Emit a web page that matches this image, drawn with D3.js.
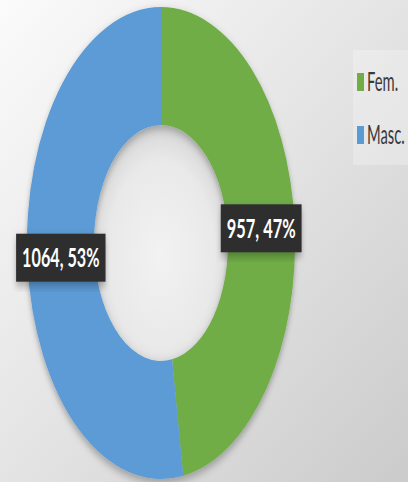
<!DOCTYPE html>
<html>
<head>
<meta charset="utf-8">
<script src="https://cdn.jsdelivr.net/npm/d3@7"></script>
<style>
  html, body { margin: 0; padding: 0; }
  svg { display: block; }
  .lbl { font-family: Lato, "Open Sans", sans-serif; fill: #fff; font-weight: bold; }
  .leg { font-family: Lato, "Open Sans", sans-serif; fill: #3a3a3a; }
</style>
</head>
<body>
<svg id="chart" width="408" height="482"></svg>
<script>
// data
var categories = ["Fem.", "Masc."];
var values = [957, 1064];
var colors = ["#70ad47", "#5b9bd5"];

var W = 408, H = 482;
//the picture is squeezed sideways, so everything is drawn wide and scaled
var kx = 0.568;
var R = 236;
var cx = 161 / kx, cy = 243;

var svg = d3.select("#chart");
var defs = svg.append("defs");

var bg = defs.append("linearGradient").attr("id", "bg")
    .attr("x1", "0").attr("y1", "0").attr("x2", "1").attr("y2", "1");
bg.append("stop").attr("offset", "0%").attr("stop-color", "#fbfbfb");
bg.append("stop").attr("offset", "50%").attr("stop-color", "#e4e4e4");
bg.append("stop").attr("offset", "100%").attr("stop-color", "#cbcbcb");

var hole = defs.append("radialGradient").attr("id", "hole")
    .attr("cx", "0.5").attr("cy", "0.55").attr("r", "0.5");
hole.append("stop").attr("offset", "0%").attr("stop-color", "#f2f2f2");
hole.append("stop").attr("offset", "80%").attr("stop-color", "#e9e9e9");
hole.append("stop").attr("offset", "100%").attr("stop-color", "#dcdcdc");

var sh = defs.append("filter").attr("id", "shadow")
    .attr("x", "-20%").attr("y", "-20%").attr("width", "140%").attr("height", "140%");
sh.append("feDropShadow").attr("dx", 0).attr("dy", 4)
    .attr("stdDeviation", 5).attr("flood-color", "#000").attr("flood-opacity", 0.3);

svg.append("rect").attr("width", W).attr("height", H).attr("fill", "url(#bg)");

var root = svg.append("g").attr("transform", "scale(" + kx + ",1)");

var pie = d3.pie().sort(null).value(d => d.value);
var arc = d3.arc().innerRadius(R * 0.5).outerRadius(R);
var labelArc = d3.arc().innerRadius(R * 0.75).outerRadius(R * 0.75);

var data = categories.map((c, i) => ({ name: c, value: values[i], color: colors[i] }));
var total = d3.sum(values);
var arcs = pie(data);

var ring = root.append("g").attr("transform", "translate(" + cx + "," + cy + ")");

ring.append("circle").attr("r", R * 0.5).attr("fill", "url(#hole)");

ring.append("g").attr("filter", "url(#shadow)")
  .selectAll("path")
  .data(arcs)
  .enter().append("path")
    .attr("d", arc)
    .attr("fill", d => d.data.color);

//data labels
var labels = ring.selectAll(".label")
    .data(arcs)
  .enter().append("g")
    .attr("class", "label")
    .attr("transform", d => "translate(" + labelArc.centroid(d) + ")");

labels.each(function(d) {
    var g = d3.select(this);
    var txt = d.data.value + ", " + Math.round(d.data.value / total * 100) + "%";
    var tw = txt.length * 8.6 / kx;
    g.append("rect")
        .attr("x", -tw / 2 - 6 / kx)
        .attr("y", -24)
        .attr("width", tw + 12 / kx)
        .attr("height", 48)
        .attr("fill", "#2e2e2e")
        .attr("filter", "url(#shadow)");
    g.append("text")
        .attr("class", "lbl")
        .attr("text-anchor", "middle")
        .attr("dy", "0.36em")
        .attr("font-size", 26)
        .attr("textLength", tw)
        .attr("lengthAdjust", "spacingAndGlyphs")
        .text(txt);
});

//legend
var legend = root.append("g");
legend.append("rect")
    .attr("x", 353 / kx).attr("y", 50)
    .attr("width", (W - 353) / kx + 10).attr("height", 115)
    .attr("fill", "#ffffff").attr("opacity", 0.25);

var items = legend.selectAll(".item")
    .data(data)
  .enter().append("g")
    .attr("class", "item")
    .attr("transform", (d, i) => "translate(" + (357 / kx) + "," + (82 + i * 53) + ")");

items.append("rect")
    .attr("x", 0).attr("y", -9)
    .attr("width", 7 / kx).attr("height", 18)
    .attr("fill", d => d.color);
items.append("text")
    .attr("class", "leg")
    .attr("x", 10 / kx)
    .attr("dy", "0.36em")
    .attr("font-size", 26)
    .text(d => d.name);
</script>
</body>
</html>
